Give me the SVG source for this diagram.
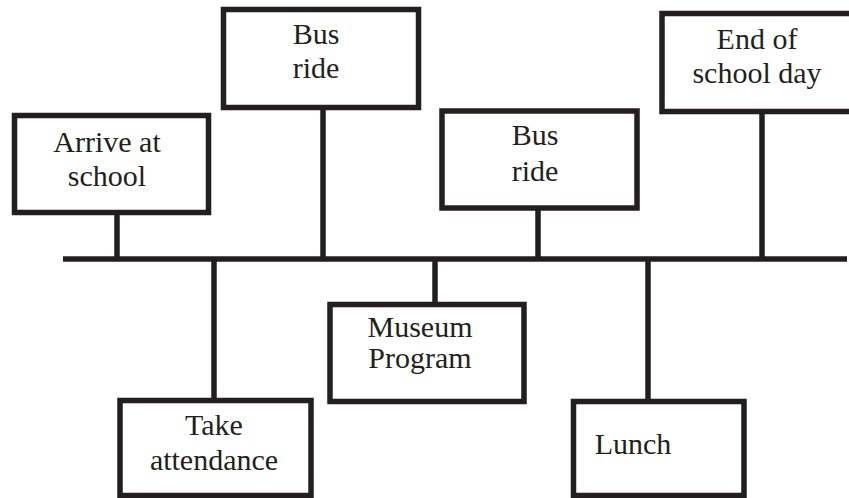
<svg xmlns="http://www.w3.org/2000/svg" width="849" height="498" viewBox="0 0 849 498">
<style>
.box{fill:#fff;stroke:#231f20;stroke-width:5.5}
.ln{stroke:#231f20;stroke-width:5.5;fill:none}
.t{font-family:"Liberation Serif","Times New Roman",serif;font-size:30px;fill:#231f20;text-anchor:middle}
</style>
<rect width="849" height="498" fill="#fff"/>
<g id="connectors">
<line class="ln" x1="63" y1="259" x2="847" y2="259"/>
<line class="ln" x1="117" y1="213" x2="117" y2="259"/>
<line class="ln" x1="323" y1="108" x2="323" y2="259"/>
<line class="ln" x1="538" y1="209" x2="538" y2="259"/>
<line class="ln" x1="762" y1="112" x2="762" y2="259"/>
<line class="ln" x1="214" y1="259" x2="214" y2="400"/>
<line class="ln" x1="435" y1="259" x2="435" y2="304"/>
<line class="ln" x1="648" y1="259" x2="648" y2="401"/>
</g>
<g id="arrive">
<rect class="box" x="14.5" y="115.5" width="194" height="97"/>
<text class="t" x="107" y="152">Arrive at</text>
<text class="t" x="107" y="186">school</text>
</g>
<g id="bus1">
<rect class="box" x="223.5" y="9.5" width="195" height="98"/>
<text class="t" x="316" y="44">Bus</text>
<text class="t" x="316" y="78">ride</text>
</g>
<g id="bus2">
<rect class="box" x="442" y="111" width="195" height="97"/>
<text class="t" x="535" y="145">Bus</text>
<text class="t" x="535" y="181">ride</text>
</g>
<g id="end">
<rect class="box" x="662" y="13.5" width="195" height="98"/>
<text class="t" x="757" y="49">End of</text>
<text class="t" x="757" y="83">school day</text>
</g>
<g id="take">
<rect class="box" x="120" y="400.5" width="191" height="95"/>
<text class="t" x="214" y="435">Take</text>
<text class="t" x="214" y="470">attendance</text>
</g>
<g id="museum">
<rect class="box" x="330" y="304.5" width="194" height="97"/>
<text class="t" x="420" y="337">Museum</text>
<text class="t" x="420" y="368">Program</text>
</g>
<g id="lunch">
<rect class="box" x="573.5" y="401.5" width="170.5" height="94"/>
<text class="t" x="633" y="454">Lunch</text>
</g>
</svg>
